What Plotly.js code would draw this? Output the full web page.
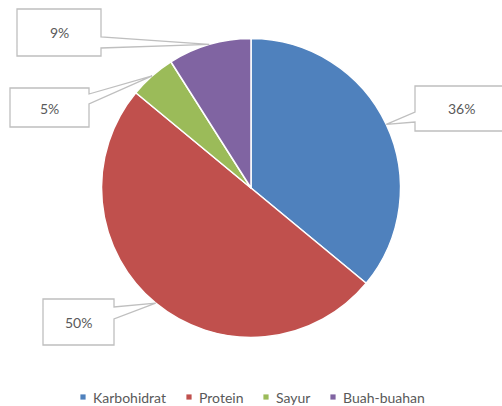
<!DOCTYPE html>
<html>
<head>
<meta charset="utf-8">
<script src="https://cdn.plot.ly/plotly-3.0.1.min.js"></script>
<style>html,body{margin:0;padding:0;background:#fff;}#chart{width:502px;height:406px;}</style>
</head>
<body>
<div id="chart"></div>
<script>
// Data
var categories = ['Karbohidrat', 'Protein', 'Sayur', 'Buah-buahan'];
var values = [36, 50, 5, 9];

// Styles / layout
var colors = ['#4f81bd', '#c0504d', '#9bbb59', '#8064a2'];
var W = 502, H = 406;
var CX = 251, CY = 188, R = 149.5;
var FONT = 'Lato, "Open Sans", sans-serif';
var TEXT = '#595959';
var BORDER = '#bfbfbf';

// callout boxes in pixels
var boxes = [
  {l: 415, t: 86, r: 506, b: 131, side: 'left', a: 112, c: 122, tx: 461, ty: 109},
  {l: 43, t: 299, r: 114, b: 345, side: 'right', a: 307, c: 319, tx: 78, ty: 322},
  {l: 10, t: 88, r: 89, b: 127, side: 'right', a: 94, c: 104, tx: 49, ty: 108},
  {l: 17, t: 9, r: 101, b: 56, side: 'right', a: 37, c: 48, tx: 59, ty: 33}
];
// legend item symbol centres (px) and row
var legendX = [83, 189, 266, 333];
var legendY = 397;

function px(x) { return x / W; }
function py(y) { return 1 - y / H; }
function P(x, y) { return px(x).toFixed(5) + ',' + py(y).toFixed(5); }

var total = values.reduce(function (s, v) { return s + v; }, 0);
var shapes = [], annotations = [];
var cum = 0;
values.forEach(function (v, i) {
  var mid = (cum + v / 2) / total;
  cum += v;
  var ang = mid * 2 * Math.PI;
  var tipX = CX + R * Math.sin(ang);
  var tipY = CY - R * Math.cos(ang);
  var b = boxes[i];
  var path;
  if (b.side === 'right') {
    path = 'M' + P(b.l, b.t) + ' L' + P(b.r, b.t) + ' L' + P(b.r, b.a) + ' L' + P(tipX, tipY) +
      ' L' + P(b.r, b.c) + ' L' + P(b.r, b.b) + ' L' + P(b.l, b.b) + ' Z';
  } else {
    path = 'M' + P(b.r, b.t) + ' L' + P(b.l, b.t) + ' L' + P(b.l, b.a) + ' L' + P(tipX, tipY) +
      ' L' + P(b.l, b.c) + ' L' + P(b.l, b.b) + ' L' + P(b.r, b.b) + ' Z';
  }
  shapes.push({type: 'path', xref: 'paper', yref: 'paper', path: path,
    fillcolor: '#ffffff', line: {color: BORDER, width: 1.3}, layer: 'above'});
  annotations.push({xref: 'paper', yref: 'paper', x: px(b.tx), y: py(b.ty),
    text: Math.round(v / total * 100) + '%', showarrow: false,
    xanchor: 'center', yanchor: 'middle',
    font: {family: FONT, size: 14, color: TEXT}});
});

// legend: square swatch + label for each category
categories.forEach(function (c, i) {
  var x = legendX[i], s = 2.6;
  shapes.push({type: 'rect', xref: 'paper', yref: 'paper',
    x0: px(x - s), x1: px(x + s), y0: py(legendY + s), y1: py(legendY - s),
    fillcolor: colors[i], line: {width: 0}, layer: 'above'});
  annotations.push({xref: 'paper', yref: 'paper', x: px(x + 8), y: py(legendY),
    text: c, showarrow: false, xanchor: 'left', yanchor: 'middle',
    font: {family: FONT, size: 14, color: TEXT}});
});

var traces = [{
  type: 'pie',
  labels: categories,
  values: values,
  sort: false,
  direction: 'clockwise',
  rotation: 0,
  textinfo: 'none',
  textposition: 'inside',
  hoverinfo: 'label+percent',
  showlegend: false,
  marker: {colors: colors, line: {color: '#ffffff', width: 1.5}},
  domain: {x: [px(CX - R), px(CX + R)], y: [py(CY + R), py(CY - R)]}
}];

var layout = {
  width: W, height: H,
  margin: {l: 0, r: 0, t: 0, b: 0},
  paper_bgcolor: '#ffffff', plot_bgcolor: '#ffffff',
  showlegend: false,
  shapes: shapes,
  annotations: annotations
};

Plotly.newPlot('chart', traces, layout, {displayModeBar: false, staticPlot: true});
</script>
</body>
</html>
